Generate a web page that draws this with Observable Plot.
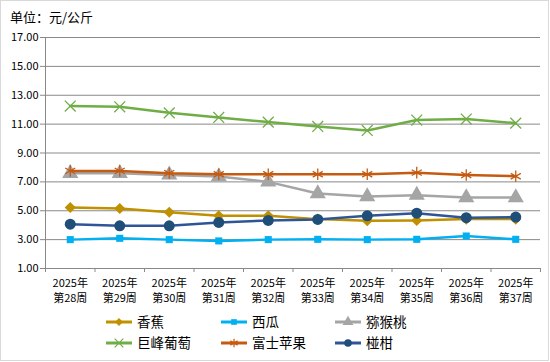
<!DOCTYPE html>
<html><head><meta charset="utf-8">
<script src="https://cdn.jsdelivr.net/npm/d3@7"></script>
<script src="https://cdn.jsdelivr.net/npm/@observablehq/plot@0.6"></script>
<style>
body{margin:0;background:#fff;}
#chart{position:relative;width:550px;height:362px;font-family:"Noto Sans CJK SC","Noto Sans",sans-serif;color:#000;}
#frame{position:absolute;left:0;top:0;width:549px;height:361px;box-sizing:border-box;border:1px solid #d9d9d9;}
#title{position:absolute;left:10px;top:8px;font-size:13px;line-height:18px;}
#plot{position:absolute;left:0;top:0;}
#legend{position:absolute;left:0;top:310px;width:550px;height:50px;}
</style></head><body>
<div id="chart">
  <div id="frame"></div>
  <div id="plot"></div>
  <div id="title">单位：元/公斤</div>
  <svg id="legend" width="550" height="50"></svg>
</div>
<script>
const weeks = ["2025年\n第28周","2025年\n第29周","2025年\n第30周","2025年\n第31周","2025年\n第32周","2025年\n第33周","2025年\n第34周","2025年\n第35周","2025年\n第36周","2025年\n第37周"];
const yTicks = [1,3,5,7,9,11,13,15,17];
const banana     = [5.23,5.16,4.90,4.65,4.65,4.42,4.31,4.33,4.42,4.42];
const watermelon = [3.00,3.09,3.00,2.91,3.00,3.02,3.00,3.02,3.25,3.02];
const kiwi       = [7.60,7.60,7.48,7.37,7.00,6.19,5.98,6.08,5.91,5.91];
const grape      = [12.25,12.20,11.78,11.46,11.14,10.84,10.56,11.28,11.35,11.07];
const fuji       = [7.76,7.76,7.60,7.53,7.53,7.53,7.53,7.64,7.48,7.39];
const mandarin   = [4.07,3.96,3.96,4.19,4.33,4.40,4.65,4.83,4.52,4.56];

const series = [
  {name:"香蕉", data:banana, line:"#BF9000", mark:"#BF9000", symbol:"diamond2", r:5, lr:3.6, filled:true},
  {name:"西瓜", data:watermelon, line:"#00B0F0", mark:"#00B0F0", symbol:"square", r:4, lr:3.2, filled:true},
  {name:"猕猴桃", data:kiwi, line:"#A5A5A5", mark:"#A5A5A5", symbol:"triangle", r:6, lr:4, filled:true},
  {name:"巨峰葡萄", data:grape, line:"#70AD47", mark:"#70AD47", symbol:"times", r:5, lr:4, filled:false},
  {name:"富士苹果", data:fuji, line:"#C55A11", mark:"#C55A11", symbol:"asterisk", r:5.5, lr:4, filled:false},
  {name:"椪柑", data:mandarin, line:"#2F5597", mark:"#1F4E79", symbol:"circle", r:5.5, lr:3.8, filled:true}
];

const gray = "#898989";
const xi = (d,i) => i + 0.5;
const marks = [
  Plot.gridY(yTicks, {stroke: gray, strokeOpacity: 1}),
  Plot.ruleX([0], {stroke: gray}),
  Plot.ruleY([1], {stroke: gray}),
  Plot.axisY({ticks: yTicks, tickFormat: d => d.toFixed(2), tickSize: 5, tickPadding: 2, fontSize: 11, stroke: gray, fill: "#000"}),
  Plot.axisX({ticks: d3.range(0, 11), tickSize: 4, tickFormat: () => "", stroke: gray}),
  Plot.axisX({ticks: d3.range(10).map(i => i + 0.5), tickSize: 0, tickPadding: 8, tickFormat: d => weeks[Math.round(d - 0.5)], fontSize: 11, lineHeight: 1.33, fill: "#000"})
];
for (const s of series) {
  marks.push(Plot.line(s.data, {x: xi, y: d => d, stroke: s.line, strokeWidth: 2.5}));
  marks.push(Plot.dot(s.data, s.filled
    ? {x: xi, y: d => d, symbol: s.symbol, r: s.r, fill: s.mark, stroke: "none"}
    : {x: xi, y: d => d, symbol: s.symbol, r: s.r, stroke: s.mark, strokeWidth: 1.3, fill: "none"}));
}

const chart = Plot.plot({
  width: 550, height: 310,
  marginLeft: 45, marginRight: 10, marginTop: 37, marginBottom: 42,
  style: {fontFamily: '"Noto Sans CJK SC","Noto Sans",sans-serif', background: "transparent", overflow: "visible"},
  x: {type: "linear", domain: [0, 10], axis: null},
  y: {domain: [1, 17], axis: null},
  marks
});
document.getElementById("plot").appendChild(chart);

// legend
const symMap = {diamond2: d3.symbolDiamond2, square: d3.symbolSquare, triangle: d3.symbolTriangle, times: d3.symbolTimes, asterisk: d3.symbolAsterisk, circle: d3.symbolCircle};
const cols = [106, 221, 335];
const rows = [12, 33];
const lg = d3.select("#legend");
series.forEach((s, k) => {
  const x0 = cols[k % 3], y0 = rows[Math.floor(k / 3)];
  const g = lg.append("g").attr("transform", `translate(${x0},${y0})`);
  g.append("line").attr("x1", 0).attr("x2", 26).attr("y1", 0).attr("y2", 0).attr("stroke", s.line).attr("stroke-width", 3);
  const p = g.append("path").attr("transform", "translate(13,0)")
    .attr("d", d3.symbol(symMap[s.symbol], s.lr * s.lr * Math.PI)());
  if (s.filled) p.attr("fill", s.mark); else p.attr("fill", "none").attr("stroke", s.mark).attr("stroke-width", 1.2);
  g.append("text").attr("x", 31).attr("y", 0).attr("dy", "0.36em").attr("font-size", 13.5)
    .attr("font-family", '"Noto Sans CJK SC",sans-serif').text(s.name);
});
</script>
</body></html>
